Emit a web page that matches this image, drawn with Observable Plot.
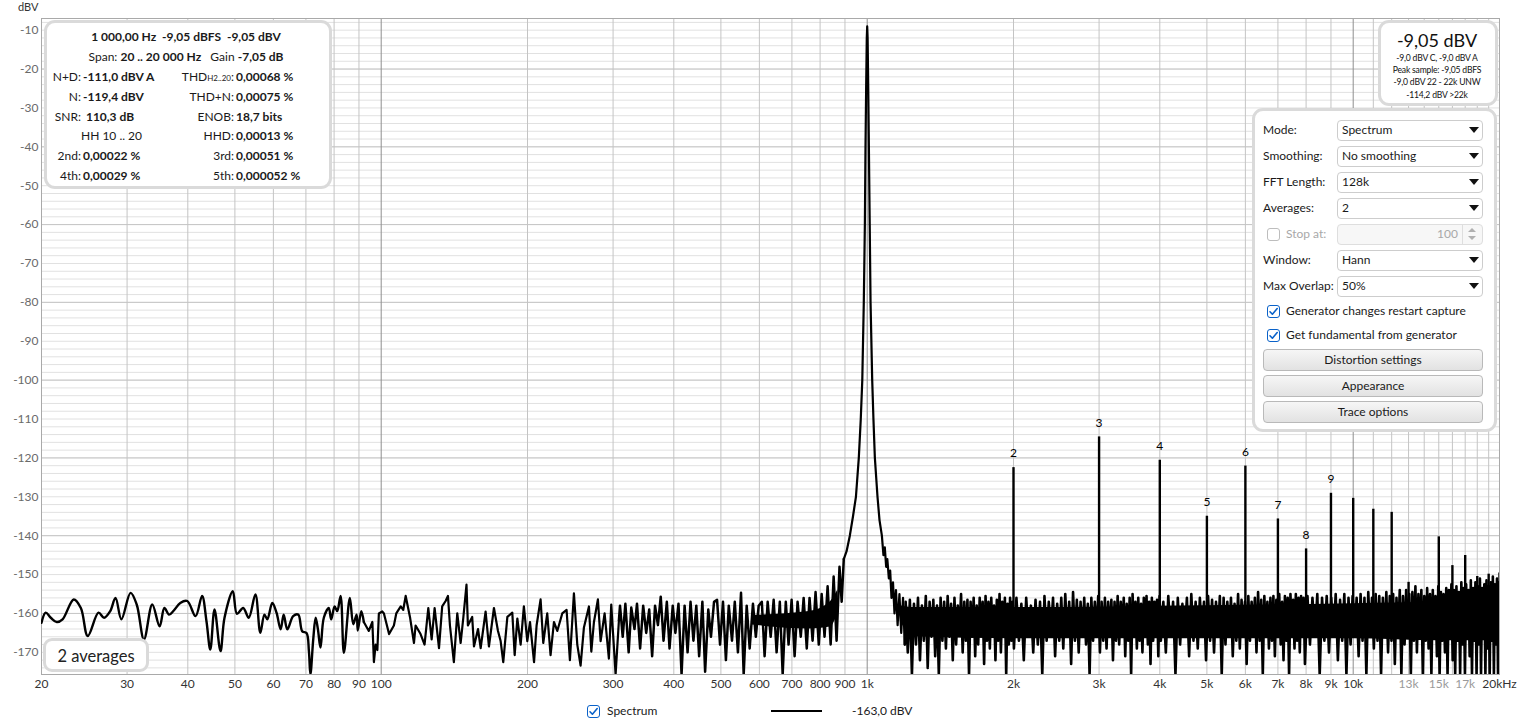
<!DOCTYPE html>
<html><head><meta charset="utf-8">
<script src="https://cdn.jsdelivr.net/npm/d3@7"></script>
<script src="https://cdn.jsdelivr.net/npm/@observablehq/plot@0.6"></script>
<style>
body{margin:0;background:#fff;font-family:Lato,"Noto Sans",sans-serif;}
#wrap{position:relative;width:1520px;height:722px;overflow:hidden;background:#fff;}
#wrap svg{position:absolute;left:0;top:0;overflow:visible;}
b{font-weight:700;}
</style></head><body><div id="wrap"></div>
<script>
// ---------- DATA ----------
const yTicks = [-10,-20,-30,-40,-50,-60,-70,-80,-90,-100,-110,-120,-130,-140,-150,-160,-170];
const xTicks = [20,30,40,50,60,70,80,90,100,200,300,400,500,600,700,800,900,1000,2000,3000,4000,5000,6000,7000,8000,9000,10000,20000];
const xTickLabels = ["20","30","40","50","60","70","80","90","100","200","300","400","500","600","700","800","900","1k","2k","3k","4k","5k","6k","7k","8k","9k","10k","20kHz"];
const xTicksFaint = [13000,15000,17000];
const xTicksFaintLabels = ["13k","15k","17k"];
const xGrid = [30,40,50,60,70,80,90,200,300,400,500,600,700,800,900,2000,3000,4000,5000,6000,7000,8000,9000,11000,12000,13000,14000,15000,16000,17000,18000,19000];
const xGridDecades = [100,1000,10000];

// spectrum, low frequencies (Hz, dBV)
const lowNoise = [[20,-162.4],[20.4,-159.8],[20.9,-161.1],[21.5,-162.2],[22.1,-161.5],[23.3,-156.4],[24.1,-158.6],[24.9,-165.8],[26.2,-159.8],[26.9,-161.1],[27.7,-159.4],[28.4,-156],[29.2,-161.5],[30.5,-154.7],[31.4,-157.7],[32.5,-166.7],[33.8,-157.7],[35,-163.3],[35.8,-158.6],[36.6,-160.3],[37.4,-159.3],[38.6,-157.3],[39.9,-156.8],[41.5,-160.7],[42.8,-155.5],[43.7,-162],[44.5,-169.3],[45.4,-159],[46.7,-169.7],[47.6,-161.1],[49.5,-154.3],[50.5,-160.1],[52,-158.6],[53.4,-161.1],[55.1,-155.1],[56.4,-165],[57.5,-160.3],[58.3,-161.5],[59.7,-157.3],[60.9,-159.8],[62.1,-164.1],[63,-160.3],[64.1,-164.1],[65.9,-160.7],[67.5,-160.3],[68.8,-164.6],[70.2,-165],[71,-169.7],[71.5,-175.7],[72.5,-166.4],[73.3,-161.1],[74.1,-164.1],[75,-168.8],[76.2,-161.1],[78,-158.6],[78.9,-161.5],[80.2,-158.2],[81.2,-159.4],[82.5,-155.5],[83.8,-170.1],[86.2,-156],[87.6,-162.8],[89,-160.3],[89.5,-164.4],[91,-159.4],[92.1,-162.2]];

// spectrum, 92 Hz .. 310 Hz
const midNoise = [[92.1,-162.2],[94.3,-164.5],[95.9,-162.2],[96.6,-172.5],[97.4,-168],[98.2,-169.4],[98.9,-160],[100.5,-159.5],[101.3,-160],[103.8,-165.3],[106.2,-163.1],[107.4,-160],[109.7,-158.2],[111,-159.1],[112.3,-155.5],[114.6,-160.9],[116.8,-167.6],[117.7,-163.1],[120.5,-165.3],[122.8,-168],[125,-158.6],[127,-166.7],[128.8,-158.6],[131.5,-168.9],[133.5,-158.2],[135.7,-156.8],[137.2,-155.5],[138.5,-163.1],[141.1,-172.5],[143.4,-160],[145.7,-167.6],[147.5,-161.3],[149.8,-152.6],[150.8,-163.1],[153.9,-160.9],[155.2,-168.5],[158.2,-164],[160.2,-168.9],[164,-159.5],[166.6,-168.5],[170.6,-158.6],[173.9,-164.5],[176.1,-167.1],[178.3,-172.5],[181.8,-160.9],[186.1,-159.8],[188.2,-170.7],[190.6,-161.3],[193.6,-168],[196.6,-158.2],[199.8,-167.1],[202.4,-162.2],[206.3,-172.5],[208.8,-163.1],[212.8,-156.4],[215.5,-167.6],[219.6,-160],[223.1,-170.7],[226.7,-162.2],[230.3,-164.5],[235.8,-160],[240.7,-159.1],[244.5,-172],[249.2,-154.8],[253.2,-168],[257.2,-173.4],[261.3,-163.6],[267.6,-158.2],[270.6,-169.8],[274,-162.2],[279.2,-156.4],[282.8,-167.1],[288.2,-160],[294.1,-171.6],[297.4,-157.7],[303.6,-175.7],[308.4,-161.8]];

// spectrum, 310 Hz .. 900 Hz
const upperMidNoise = [[308.4,-161.8],[310,-158],[314,-166],[318,-157.5],[323,-170],[327,-158.5],[332,-164],[336,-157.5],[341,-169],[346,-158],[351,-165],[356,-159],[361,-171],[366,-158],[371,-163],[376,-155.7],[381,-167],[387,-157],[392,-169],[398,-158],[403,-165],[409,-157.5],[415,-175.7],[421,-158],[427,-170],[433,-157],[439,-167],[445,-158],[451,-171],[458,-157],[464,-175],[471,-159],[477,-166],[484,-157],[491,-156.5],[498,-168],[505,-157],[512,-172],[519,-158],[527,-167],[534,-157],[542,-170],[550,-154.7],[557,-175.7],[565,-158],[573,-169],[582,-157.5],[590,-166],[598,-158],[607,-157],[615,-171],[624,-157],[633,-166],[642,-156.5],[651,-170],[661,-157],[670,-175.7],[680,-157],[689,-168],[699,-156.5],[709,-171],[719,-157],[730,-166],[740,-156],[751,-169],[761,-156],[772,-167],[783,-154.5],[795,-168],[806,-155],[817,-166],[829,-153],[841,-168],[853,-150.5],[865,-167],[877,-148],[886,-157],[895,-146]];

// fundamental 1 kHz and its skirt
const fundamental = [[895,-146],[907,-144],[921,-140],[935,-135],[948,-130],[961,-120],[970,-110],[977,-100],[984,-80],[989,-60],[992,-40],[995,-25],[998,-12],[1000,-9.05],[1002,-12],[1005,-25],[1008,-40],[1012,-60],[1016,-80],[1024,-100],[1030,-110],[1037,-120],[1050,-130],[1060,-136],[1072,-140],[1080,-145],[1087,-143],[1094,-148],[1100,-146],[1108,-151],[1115,-149],[1122,-156],[1130,-152],[1138,-160],[1146,-154],[1155,-163],[1165,-155],[1175,-165],[1185,-156],[1195,-168]];

// spectrum noise floor 1.2 kHz .. 20 kHz
const noise1k2 = [[1195,-168],[1200,-157],[1212,-170],[1224,-156.5],[1236,-175.7],[1248,-157.5],[1260,-168],[1272,-156],[1284,-172],[1296,-158],[1308,-167],[1320,-155.5],[1332,-174],[1344,-157],[1356,-166],[1368,-156.5],[1380,-171],[1392,-158],[1404,-175.7],[1416,-156],[1428,-167],[1440,-157],[1452,-169],[1464,-155.5],[1476,-166],[1488,-157.5],[1500,-172],[1512,-156],[1524,-168],[1536,-158],[1548,-165],[1560,-155],[1572,-170],[1584,-157],[1596,-167],[1608,-156.5],[1620,-175.7],[1632,-157],[1644,-166],[1656,-156],[1668,-171],[1680,-158],[1692,-168],[1704,-156],[1716,-165],[1728,-157],[1740,-173],[1752,-155.5],[1764,-167],[1776,-157],[1788,-169],[1800,-156],[1812,-166],[1824,-158],[1836,-172],[1848,-156.5],[1860,-167],[1872,-155],[1884,-170],[1896,-157],[1908,-166],[1920,-156],[1932,-175.7],[1944,-157.5],[1956,-168],[1968,-156],[1980,-167],[1992,-157]];
const noise2k = [[2004,-169],[2028,-156],[2052,-167],[2076,-157.5],[2100,-172],[2124,-156],[2148,-166],[2172,-158],[2196,-170],[2220,-156.5],[2244,-168],[2268,-157],[2292,-175.7],[2316,-155.5],[2340,-167],[2364,-157],[2388,-165],[2412,-156],[2436,-171],[2460,-157.5],[2484,-167],[2508,-156],[2532,-169],[2556,-155],[2580,-166],[2604,-157],[2628,-173],[2652,-154.5],[2676,-167],[2700,-156.5],[2724,-170],[2748,-157],[2772,-166],[2796,-156],[2820,-168],[2844,-157.5],[2868,-175.7],[2892,-156],[2916,-167],[2940,-157],[2964,-165],[2988,-155.5],[3012,-170],[3036,-157],[3060,-167],[3084,-156],[3108,-169],[3132,-157],[3156,-166],[3180,-156.5],[3204,-172],[3228,-157],[3252,-167],[3276,-155.5],[3300,-168],[3324,-157],[3348,-165],[3372,-156],[3396,-171],[3420,-157.5],[3444,-167],[3468,-156],[3492,-175.7],[3516,-155],[3540,-166],[3564,-157],[3588,-169],[3612,-156],[3636,-167],[3660,-157.5],[3684,-170],[3708,-156],[3732,-166],[3756,-155.5],[3780,-168],[3804,-157],[3828,-173],[3852,-156],[3876,-167],[3900,-157],[3924,-165],[3948,-156.5],[3972,-171],[3996,-155.5]];
const noise4k = [[4020,-167],[4068,-157],[4116,-170],[4164,-155.5],[4212,-166],[4260,-157],[4308,-175.7],[4356,-156],[4404,-168],[4452,-157.5],[4500,-166],[4548,-156],[4596,-171],[4644,-155],[4692,-167],[4740,-157],[4788,-169],[4836,-156],[4884,-165],[4932,-157],[4980,-172],[5028,-155.5],[5076,-167],[5124,-156.5],[5172,-170],[5220,-157],[5268,-166],[5316,-155.5],[5364,-175.7],[5412,-156],[5460,-168],[5508,-157],[5556,-166],[5604,-156],[5652,-171],[5700,-157.5],[5748,-167],[5796,-155],[5844,-169],[5892,-156.5],[5940,-166],[5988,-157],[6036,-173],[6084,-155.5],[6132,-167],[6180,-157],[6228,-165],[6276,-156],[6324,-170],[6372,-154.5],[6420,-167],[6468,-156.5],[6516,-175.7],[6564,-155.5],[6612,-166],[6660,-157],[6708,-169],[6756,-156],[6804,-167],[6852,-155.5],[6900,-171],[6948,-156.5],[6996,-166],[7044,-155],[7092,-168],[7140,-157],[7188,-172],[7236,-155.5],[7284,-167],[7332,-156],[7380,-175.7],[7428,-155],[7476,-166],[7524,-156.5],[7572,-169],[7620,-155],[7668,-167],[7716,-156],[7764,-170],[7812,-155.5],[7860,-166],[7908,-156],[7956,-173]];
const noise8k = [[8052,-155.5],[8148,-168],[8244,-156],[8340,-166],[8436,-155],[8532,-175.7],[8628,-156],[8724,-167],[8820,-155.5],[8916,-170],[9012,-156],[9108,-166],[9204,-155],[9300,-172],[9396,-156.5],[9492,-167],[9588,-155],[9684,-175.7],[9780,-156],[9876,-168],[9972,-155.5],[10068,-166],[10164,-156],[10260,-171],[10356,-155],[10452,-167],[10548,-156],[10644,-175.7],[10740,-154.5],[10836,-166],[10932,-156],[11028,-169],[11124,-155],[11220,-167],[11316,-155.5],[11412,-175.7],[11508,-156],[11604,-166],[11700,-154.5],[11796,-170],[11892,-155.5],[11988,-167],[12084,-155],[12180,-173],[12276,-156],[12372,-166],[12468,-154],[12564,-175.7],[12660,-155.5],[12756,-168],[12852,-154],[12948,-166],[13044,-155],[13140,-175.7],[13236,-154.5],[13332,-167],[13428,-153],[13524,-170],[13620,-155],[13716,-166],[13812,-154],[13908,-175.7],[14004,-155.5],[14100,-167],[14196,-153.5],[14292,-169],[14388,-155],[14484,-175.7],[14580,-154],[14676,-166],[14772,-155.5],[14868,-171],[14964,-153],[15060,-175.7],[15156,-154.5],[15252,-167],[15348,-155],[15444,-170],[15540,-153.5],[15636,-175.7],[15732,-154],[15828,-166],[15924,-152.5],[16020,-172],[16116,-154],[16212,-175.7],[16308,-153],[16404,-167],[16500,-154.5],[16596,-175.7],[16692,-152],[16788,-168],[16884,-153.5],[16980,-175.7],[17076,-152.5],[17172,-166],[17268,-154],[17364,-171],[17460,-151.5],[17556,-175.7],[17652,-153.5],[17748,-167],[17844,-152],[17940,-175.7],[18036,-153],[18132,-168],[18228,-151],[18324,-175.7],[18420,-153.5],[18516,-166],[18612,-152.5],[18708,-175.7],[18804,-151.5],[18900,-169],[18996,-153],[19092,-175.7],[19188,-152],[19284,-167],[19380,-150.5],[19476,-175.7],[19572,-152.5],[19668,-168],[19764,-151],[19860,-175.7],[19956,-152]];

// solid core of the dense noise floor: [Hz, upper dBV, lower dBV]
const noiseCoreMid = [[580,-160.5,-163],[760,-159.5,-164],[840,-157,-163.5],[870,-154,-160]];
const noiseCoreHigh = [[1170,-158,-162],[1250,-158.5,-166],[2000,-158.5,-166.5],[5000,-158,-166.5],[10000,-157.5,-166.5],[15000,-157,-167],[20000,-156,-167]];

// harmonics
const harmonicOrder = [2,3,4,5,6,7,8,9,10,11,12,13,15,16,17,18,19,20];
const harmonicFreq = [2000,3000,4000,5000,6000,7000,8000,9000,10000,11000,12000,13000,15000,16000,17000,18000,19000,20000];
const harmonicDb = [-122.5,-114.6,-120.6,-135.0,-122.1,-135.7,-143.4,-129.1,-130.4,-133.2,-134.0,-152,-140.3,-147.7,-145.1,-150.5,-149.9,-149.6];
const harmonicBase = -160;
const labelledHarmonics = [2,3,4,5,6,7,8,9];

// ---------- BUILD ----------
const toRows = a => a.map(([f, db]) => ({f, db}));
const toCore = a => a.map(([f, hi, lo]) => ({f, hi, lo}));
const lowRows = toRows(lowNoise);
const midRows = toRows(midNoise);
const upperMidRows = toRows(upperMidNoise);
const fundRows = toRows(fundamental);
const highRows = toRows([...noise1k2, ...noise2k, ...noise4k, ...noise8k]);
const harmRows = harmonicOrder.map((n, i) => ({n, f: harmonicFreq[i], db: harmonicDb[i]}));
const labelRows = harmRows.filter(d => labelledHarmonics.includes(d.n));
const xLabel = new Map(xTicks.map((t, i) => [t, xTickLabels[i]]));
const xLabelFaint = new Map(xTicksFaint.map((t, i) => [t, xTicksFaintLabels[i]]));

const chart = Plot.plot({
  width: 1520, height: 700,
  marginLeft: 41, marginRight: 21, marginTop: 18, marginBottom: 26,
  style: {fontFamily: "Lato, 'Noto Sans', sans-serif", fontSize: "12px", background: "transparent"},
  x: {type: "log", domain: [20, 20000], axis: null},
  y: {domain: [-175.7, -7], axis: null},
  marks: [
    Plot.gridY({interval: 2, stroke: "#e1e1e1", strokeOpacity: 1}),
    Plot.gridY({interval: 20, stroke: "#c6c6c6", strokeOpacity: 1}),
    Plot.gridX(xGrid, {stroke: "#c4c4c4", strokeOpacity: 1}),
    Plot.gridX(xGridDecades, {stroke: "#8e8e8e", strokeOpacity: 1}),
    Plot.frame({stroke: "#a9a9a9"}),
    Plot.axisY(yTicks, {tickSize: 0, tickPadding: 3, tickFormat: d => String(d), fill: "#6a6a6a", fontSize: 12, label: null}),
    Plot.text(xTicks, {x: d => d, frameAnchor: "bottom", dy: 13, text: d => xLabel.get(d), fill: "#333", fontSize: 12}),
    Plot.text(xTicksFaint, {x: d => d, frameAnchor: "bottom", dy: 13, text: d => xLabelFaint.get(d), fill: "#9a9a9a", fontSize: 12}),
    Plot.areaY(toCore(noiseCoreMid), {x: "f", y1: "lo", y2: "hi", fill: "#000", curve: "monotone-x", clip: true}),
    Plot.areaY(toCore(noiseCoreHigh), {x: "f", y1: "lo", y2: "hi", fill: "#000", curve: "monotone-x", clip: true}),
    Plot.ruleX(harmRows, {x: "f", y1: harmonicBase, y2: "db", stroke: "#000", strokeWidth: 2.4, clip: true}),
    Plot.line(lowRows, {x: "f", y: "db", stroke: "#000", strokeWidth: 2.4, curve: "catmull-rom", clip: true}),
    Plot.line(midRows, {x: "f", y: "db", stroke: "#000", strokeWidth: 2.2, clip: true}),
    Plot.line(upperMidRows, {x: "f", y: "db", stroke: "#000", strokeWidth: 2.5, clip: true}),
    Plot.line(fundRows, {x: "f", y: "db", stroke: "#000", strokeWidth: 2.2, clip: true}),
    Plot.line(highRows, {x: "f", y: "db", stroke: "#000", strokeWidth: 2.6, clip: true}),
    Plot.text(labelRows, {x: "f", y: "db", text: d => String(d.n), dy: -14, fontSize: 12, fill: "#000"})
  ]
});
const W = document.getElementById("wrap");
W.appendChild(chart);

// ---------- OVERLAY TEXT / UI ----------
function el(style, html) { const e = document.createElement("div"); Object.assign(e.style, {position: "absolute"}, style); if (html != null) e.innerHTML = html; W.appendChild(e); return e; }
function txt(x, y, html, align = "left", o = {}) {
  const s = Object.assign({top: (y - 9) + "px", height: "18px", lineHeight: "18px", whiteSpace: "nowrap", fontSize: "12px", color: "#1a1a1a"}, o);
  if (align === "left") s.left = x + "px";
  else if (align === "right") { s.right = (1520 - x) + "px"; s.textAlign = "right"; }
  else { s.left = (x - 250) + "px"; s.width = "500px"; s.textAlign = "center"; }
  return el(s, html);
}
function box(x1, y1, x2, y2, o = {}) { return el(Object.assign({left: x1 + "px", top: y1 + "px", width: (x2 - x1) + "px", height: (y2 - y1) + "px", boxSizing: "border-box"}, o)); }
const checkSvg = '<svg width="13" height="13" viewBox="0 0 13 13" style="position:absolute;left:-1px;top:-1px"><path d="M3 6.8 L5.4 9.2 L10.2 3.6" fill="none" stroke="#0a62c9" stroke-width="1.6" stroke-linecap="round" stroke-linejoin="round"/></svg>';
function checkbox(x, y, checked, disabled) {
  const b = box(x, y - 6.5, x + 13, y + 6.5, {border: "1px solid " + (disabled ? "#bdbdbd" : "#0a62c9"), borderRadius: "3px", background: "#fff"});
  if (checked) b.innerHTML = checkSvg;
  return b;
}

// y axis unit
txt(18, 7, "dBV", "left", {fontSize: "11px", color: "#333"});

// info panel
el({left: "44px", top: "20px", width: "288px", height: "169px", background: "#fff", border: "3px solid #dadada", borderRadius: "11px", boxSizing: "border-box"});
txt(186, 37, "<b>1 000,00 Hz&nbsp; -9,05 dBFS&nbsp; -9,05 dBV</b>", "center");
txt(186, 57, "Span: <b>20 .. 20 000 Hz</b>&nbsp;&nbsp; Gain <b>-7,05 dB</b>", "center");
const leftRows = [[77, "N+D:", "-111,0 dBV A"], [97, "N:", "-119,4 dBV"], [117, "SNR:", "&nbsp;110,3 dB"], [156, "2nd:", "0,00022 %"], [176, "4th:", "0,00029 %"]];
for (const [y, l, v] of leftRows) { txt(81, y, l, "right"); txt(83, y, "<b>" + v + "</b>", "left"); }
txt(81, 136, "HH 10 .. 20", "left");
const rightRows = [[77, "THD<span style='font-size:8px'>H2..20</span>:", "0,00068 %"], [97, "THD+N:", "0,00075 %"], [117, "ENOB:", "18,7 bits"], [136, "HHD:", "0,00013 %"], [156, "3rd:", "0,00051 %"], [176, "5th:", "0,000052 %"]];
for (const [y, l, v] of rightRows) { txt(234, y, l, "right"); txt(236, y, "<b>" + v + "</b>", "left"); }

// level panel (top right)
el({left: "1378px", top: "20px", width: "120px", height: "86px", background: "#fff", border: "3px solid #dadada", borderRadius: "11px", boxSizing: "border-box"});
txt(1437, 40, "-9,05 dBV", "center", {fontSize: "18px", color: "#111"});
const smallLines = [[58, "-9,0 dBV C, -9,0 dBV A"], [70, "Peak sample: -9,05 dBFS"], [82, "-9,0 dBV 22 - 22k UNW"], [95, "-114,2 dBV &gt;22k"]];
for (const [y, s] of smallLines) txt(1437, y, s, "center", {fontSize: "8.6px", letterSpacing: "-0.2px", color: "#111"});

// control panel
el({left: "1252px", top: "108px", width: "245px", height: "324px", background: "#fff", border: "3px solid #dadada", borderRadius: "11px", boxSizing: "border-box"});
const selects = [[130, "Mode:", "Spectrum"], [156, "Smoothing:", "No smoothing"], [182, "FFT Length:", "128k"], [208, "Averages:", "2"], [260, "Window:", "Hann"], [286, "Max Overlap:", "50%"]];
for (const [y, l, v] of selects) {
  txt(1263, y, l, "left");
  box(1337, y - 10, 1483, y + 11, {border: "1px solid #cdcdcd", borderRadius: "4px", background: "#fff"});
  txt(1342, y, v, "left");
  el({left: "1469px", top: (y - 3) + "px", width: 0, height: 0, borderLeft: "5px solid transparent", borderRight: "5px solid transparent", borderTop: "6px solid #111"});
}
checkbox(1267, 234, false, true);
txt(1286, 234, "Stop at:", "left", {color: "#a8a8a8"});
box(1337, 224, 1483, 245, {border: "1px solid #dedede", borderRadius: "4px", background: "#f7f7f7"});
txt(1458, 234, "100", "right", {color: "#a8a8a8"});
box(1462, 225, 1463, 244, {background: "#dedede"});
el({left: "1468px", top: "228px", width: 0, height: 0, borderLeft: "4px solid transparent", borderRight: "4px solid transparent", borderBottom: "4px solid #b0b0b0"});
el({left: "1468px", top: "236px", width: 0, height: 0, borderLeft: "4px solid transparent", borderRight: "4px solid transparent", borderTop: "4px solid #b0b0b0"});
checkbox(1267, 311, true, false);
txt(1286, 311, "Generator changes restart capture", "left");
checkbox(1267, 335, true, false);
txt(1286, 335, "Get fundamental from generator", "left");
const buttons = [[349, 371, "Distortion settings"], [375, 397, "Appearance"], [401, 423, "Trace options"]];
for (const [y1, y2, s] of buttons) {
  box(1263, y1, 1483, y2, {border: "1px solid #b9b9b9", borderRadius: "4px", background: "linear-gradient(#f6f6f6,#e2e2e2)"});
  txt(1373, (y1 + y2) / 2, s, "center");
}

// averages badge
el({left: "43px", top: "638px", width: "106px", height: "34px", background: "#fff", border: "3px solid #dadada", borderRadius: "9px", boxSizing: "border-box"});
txt(96, 656, "2 averages", "center", {fontSize: "16.5px", color: "#222"});

// legend below the chart
checkbox(587, 711, true, false);
txt(607, 711, "Spectrum", "left");
box(771, 710, 822, 712, {background: "#000"});
txt(852, 711, "-163,0 dBV", "left");
</script></body></html>
